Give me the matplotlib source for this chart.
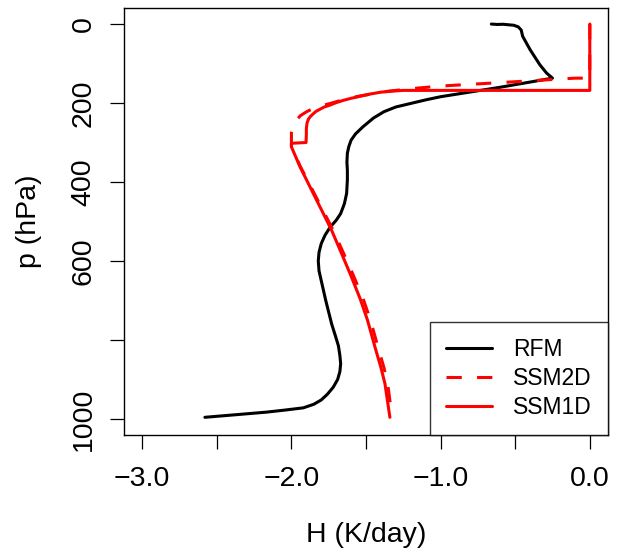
import matplotlib
matplotlib.use("Agg")
import matplotlib.pyplot as plt

plt.rcParams['font.family'] = ['Liberation Sans', 'DejaVu Sans']

# RFM (black)
rfm_h = [-0.66, -0.62, -0.58, -0.54, -0.51, -0.48, -0.46, -0.45, -0.40, -0.335, -0.29, -0.25,
         -0.60, -1.0, -1.10, -1.20, -1.30, -1.38, -1.45, -1.52, -1.57, -1.60, -1.615,
         -1.625, -1.628, -1.625, -1.625, -1.63, -1.645, -1.67, -1.70, -1.74, -1.775,
         -1.80, -1.815, -1.82, -1.815, -1.80, -1.785, -1.77, -1.75, -1.73, -1.705,
         -1.685, -1.675, -1.67, -1.675, -1.69, -1.72, -1.76, -1.80, -1.85, -1.92,
         -2.05, -2.17, -2.39, -2.58]
rfm_p = [0, 1, 0.5, 2, 3, 7, 15, 31, 65, 103, 124, 137,
         160, 184, 192, 201, 210, 222, 238, 260, 278, 294, 310,
         327, 350, 370, 395, 429, 455, 480, 497, 514, 535,
         556, 578, 600, 625, 650, 675, 700, 730, 760, 790,
         815, 840, 860, 880, 900, 920, 938, 952, 963, 972,
         978, 983, 990, 996]

# SSM2D (red dashed)
ssm2_h = [0.0, 0.0, -0.1, -0.5, -1.0, -1.15, -1.35, -1.54, -1.64, -1.72, -1.79, -1.85,
          -1.898, -1.94, -1.97, -1.99, -2.0, -2.0, -2.0, -1.94, -1.87, -1.79, -1.72,
          -1.65, -1.59, -1.52, -1.47, -1.42, -1.38, -1.355, -1.325]
ssm2_p = [0, 137, 137, 146, 157, 162, 170, 182, 190, 199, 206, 213,
          222, 232, 245, 260, 275, 300, 311, 361, 412, 471, 522,
          581, 632, 695, 750, 818, 870, 911, 996]

# SSM1D (red solid)
ssm1_h = [0.0, 0.0, -1.25, -1.33, -1.40, -1.47, -1.54, -1.60, -1.65, -1.70, -1.74,
          -1.78, -1.81, -1.835, -1.853, -1.87, -1.885, -1.895, -1.90, -1.90, -1.902,
          -2.0, -2.0, -1.943, -1.876, -1.798, -1.731, -1.664, -1.607, -1.54, -1.49,
          -1.44, -1.40, -1.373, -1.34]
ssm1_p = [0, 168, 168, 170, 172.5, 177, 183, 188, 193, 199, 205,
          210, 216, 221, 227, 233, 240, 250, 265, 280, 300,
          302, 311, 361, 412, 471, 522, 581, 632, 695, 750,
          818, 870, 911, 996]

x_ticks = [-3.0, -2.5, -2.0, -1.5, -1.0, -0.5, 0.0]
x_ticklabels = ['\u22123.0', '', '\u22122.0', '', '\u22121.0', '', '0.0']
y_ticks = [0, 200, 400, 600, 800, 1000]
y_ticklabels = ['0', '200', '400', '600', '', '1000']

fig = plt.figure(figsize=(6.21, 5.48), dpi=100)
ax = fig.add_axes([0.2002, 0.2068, 0.7784, 0.7781])

lw = 2.2
ax.plot(rfm_h, rfm_p, color='black', lw=lw, label='RFM', solid_joinstyle='round', solid_capstyle='round')
ax.plot(ssm2_h, ssm2_p, color='#ff0000', lw=lw, ls=(0, (5, 5)), label='SSM2D')
ax.plot(ssm1_h, ssm1_p, color='#ff0000', lw=lw, label='SSM1D', solid_joinstyle='round', solid_capstyle='round')

ax.set_xlim(-3.12, 0.12)
ax.set_ylim(1040, -40)

ax.set_xticks(x_ticks)
ax.set_xticklabels(x_ticklabels)
ax.set_yticks(y_ticks)
ax.set_yticklabels(y_ticklabels, rotation=90, va='center')

ax.tick_params(axis='both', direction='out', length=10, width=0.9, labelsize=20.5, colors='black')
ax.tick_params(axis='x', pad=12.5)
ax.tick_params(axis='y', pad=10)
for s in ax.spines.values():
    s.set_linewidth(1.0)
    s.set_color('black')

ax.set_xlabel('H (K/day)', fontsize=20.5, labelpad=22)
ax.set_ylabel('p (hPa)', fontsize=20.5, labelpad=20.5)

leg = ax.legend(loc='lower right', bbox_to_anchor=(1.0, 0.0), borderaxespad=0,
                fontsize=16.5, frameon=True, fancybox=False, shadow=False,
                handlelength=2.0, handletextpad=0.9, borderpad=0.7, labelspacing=0.25)
leg.get_frame().set_edgecolor('black')
leg.get_frame().set_linewidth(1.0)

fig.savefig('out.png', dpi=100)
